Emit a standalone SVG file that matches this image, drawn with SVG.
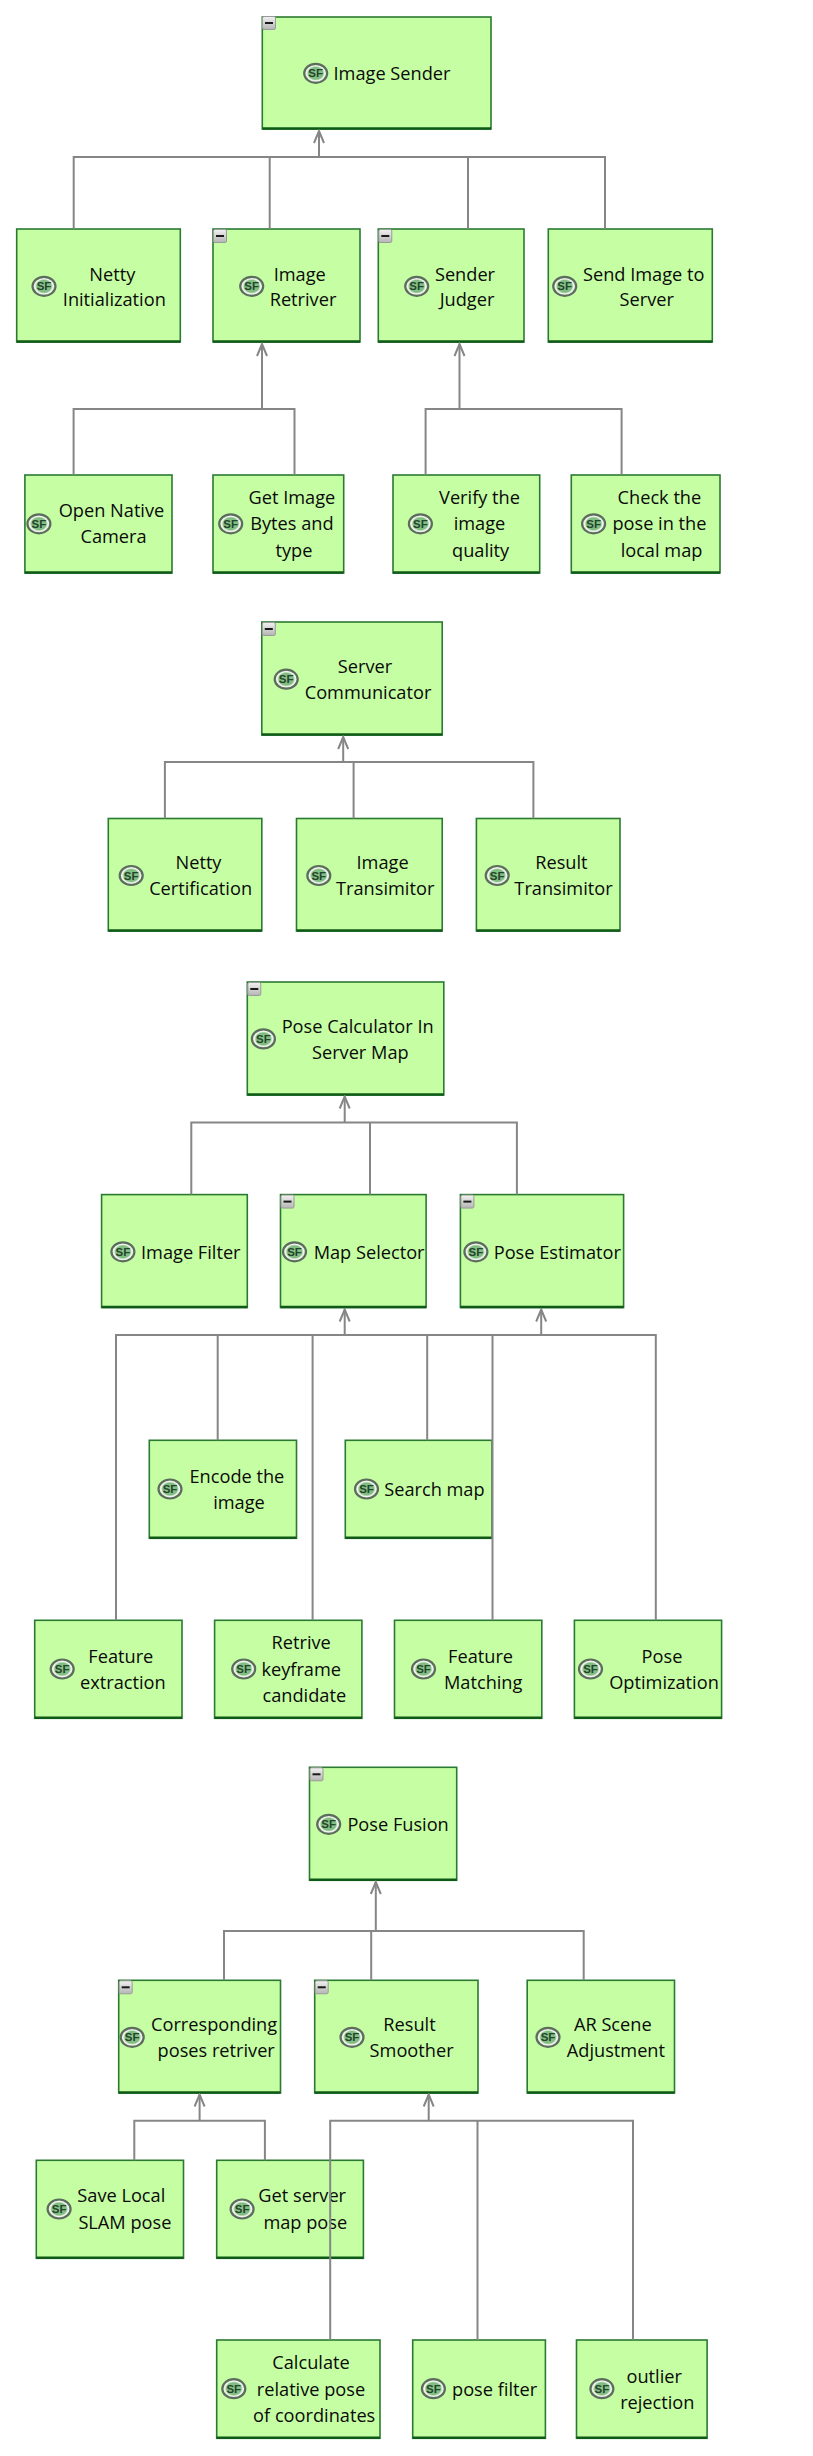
<svg xmlns="http://www.w3.org/2000/svg" width="813" height="2456" viewBox="0 0 813 2456">
<style>
.b{fill:#c6ffa3;stroke:#2b7a32;stroke-width:1.6}
.e{stroke:#0f5a16;stroke-width:2.6;fill:none}
.c{fill:none;stroke:#868686;stroke-width:2}
.t{font-family:"Open Sans","Noto Sans","Liberation Sans",sans-serif;font-size:18.2px;fill:#0a0a0a;text-anchor:middle}
.s{font-family:"Liberation Sans",sans-serif;font-size:11.5px;font-weight:700;fill:#24452b;text-anchor:middle}
.a{fill:none;stroke:#868686;stroke-width:2}
.bd{fill:url(#bg);stroke:#5c6c5d;stroke-width:2.2}
.m{fill:url(#mg);stroke:#9a9a9a;stroke-width:1}
.n{fill:#1a1a1a}
</style>
<defs>
<radialGradient id="bg"><stop offset="0" stop-color="#8ec88e"/><stop offset="0.62" stop-color="#7fbb80"/><stop offset="0.78" stop-color="#f2f7ee"/><stop offset="1" stop-color="#cfdccb"/></radialGradient>
<linearGradient id="mg" x1="0" y1="0" x2="0" y2="1"><stop offset="0" stop-color="#f2f2f2"/><stop offset="1" stop-color="#b4b4b4"/></linearGradient>
<marker id="arr" markerUnits="userSpaceOnUse" markerWidth="16" markerHeight="14" refX="14" refY="7" orient="auto" viewBox="0 0 16 14"><path class="a" d="M2 2 L14 7 L2 12"/></marker>
<g id="badge"><ellipse class="bd" cx="0" cy="0" rx="11.5" ry="9.5"/></g>
<g id="minus"><rect class="m" x="0.5" y="0.5" width="13" height="13" rx="1.5"/><rect class="n" x="3" y="6" width="8" height="2"/></g>
</defs>

<g id="node-image-sender"><rect class="b" x="262.3" y="17" width="228.7" height="112"/><path class="e" d="M262.3 128.5H491"/><use href="#minus" x="262" y="16"/><use href="#badge" x="315.7" y="73.3"/><text class="s" x="315.7" y="77.4">SF</text><text class="t" x="392" y="80">Image Sender</text></g>
<g id="node-netty-initialization"><rect class="b" x="16.7" y="229" width="163.6" height="113"/><path class="e" d="M16.7 341.5H180.3"/><use href="#badge" x="44" y="286.3"/><text class="s" x="44" y="290.4">SF</text><text class="t" x="112.3" y="280.7">Netty</text><text class="t" x="114.3" y="306">Initialization</text></g>
<g id="node-image-retriver"><rect class="b" x="213" y="229" width="147" height="113"/><path class="e" d="M213 341.5H360"/><use href="#minus" x="213" y="229"/><use href="#badge" x="251.7" y="286.3"/><text class="s" x="251.7" y="290.4">SF</text><text class="t" x="299.7" y="280.7">Image</text><text class="t" x="303" y="306">Retriver</text></g>
<g id="node-sender-judger"><rect class="b" x="378.3" y="229" width="145.7" height="113"/><path class="e" d="M378.3 341.5H524"/><use href="#minus" x="378.3" y="229"/><use href="#badge" x="416.7" y="286.3"/><text class="s" x="416.7" y="290.4">SF</text><text class="t" x="465" y="280.7">Sender</text><text class="t" x="467" y="306">Judger</text></g>
<g id="node-send-image"><rect class="b" x="548.3" y="229" width="164" height="113"/><path class="e" d="M548.3 341.5H712.3"/><use href="#badge" x="564.7" y="286.3"/><text class="s" x="564.7" y="290.4">SF</text><text class="t" x="643.7" y="280.7">Send Image to</text><text class="t" x="646.7" y="306">Server</text></g>

<g id="node-open-camera"><rect class="b" x="24.9" y="475" width="147.1" height="98"/><path class="e" d="M24.9 572.5H172"/><use href="#badge" x="38.9" y="523.8"/><text class="s" x="38.9" y="527.9">SF</text><text class="t" x="111.5" y="517">Open Native</text><text class="t" x="113.5" y="543">Camera</text></g>
<g id="node-get-image"><rect class="b" x="213" y="475" width="130.7" height="98"/><path class="e" d="M213 572.5H343.7"/><use href="#badge" x="230.7" y="523.8"/><text class="s" x="230.7" y="527.9">SF</text><text class="t" x="291.9" y="504">Get Image</text><text class="t" x="291.9" y="530.3">Bytes and</text><text class="t" x="293.9" y="556.7">type</text></g>
<g id="node-verify"><rect class="b" x="393" y="475" width="146.7" height="98"/><path class="e" d="M393 572.5H539.7"/><use href="#badge" x="420.4" y="523.8"/><text class="s" x="420.4" y="527.9">SF</text><text class="t" x="479.5" y="504">Verify the</text><text class="t" x="479.5" y="530.3">image</text><text class="t" x="480.6" y="556.7">quality</text></g>
<g id="node-check-pose"><rect class="b" x="571.3" y="475" width="148.7" height="98"/><path class="e" d="M571.3 572.5H720"/><use href="#badge" x="593.6" y="523.8"/><text class="s" x="593.6" y="527.9">SF</text><text class="t" x="659.4" y="504">Check the</text><text class="t" x="659.4" y="530.3">pose in the</text><text class="t" x="661.5" y="556.7">local map</text></g>

<g id="node-server-communicator"><rect class="b" x="261.8" y="622" width="180.4" height="113"/><path class="e" d="M261.8 734.5H442.2"/><use href="#minus" x="261.8" y="622"/><use href="#badge" x="286.2" y="679.2"/><text class="s" x="286.2" y="683.3">SF</text><text class="t" x="365" y="672.7">Server</text><text class="t" x="368" y="699">Communicator</text></g>
<g id="node-netty-certification"><rect class="b" x="108.3" y="818.5" width="153.5" height="112.5"/><path class="e" d="M108.3 930.5H261.8"/><use href="#badge" x="131.2" y="875.5"/><text class="s" x="131.2" y="879.6">SF</text><text class="t" x="198.5" y="869">Netty</text><text class="t" x="200.6" y="895">Certification</text></g>
<g id="node-image-transimitor"><rect class="b" x="296.5" y="818.5" width="145.7" height="112.5"/><path class="e" d="M296.5 930.5H442.2"/><use href="#badge" x="318.8" y="875.5"/><text class="s" x="318.8" y="879.6">SF</text><text class="t" x="382.6" y="869">Image</text><text class="t" x="385.2" y="895">Transimitor</text></g>
<g id="node-result-transimitor"><rect class="b" x="476.4" y="818.5" width="143.6" height="112.5"/><path class="e" d="M476.4 930.5H620"/><use href="#badge" x="497.2" y="875.5"/><text class="s" x="497.2" y="879.6">SF</text><text class="t" x="561.4" y="869">Result</text><text class="t" x="563.5" y="895">Transimitor</text></g>

<g id="node-pose-calculator"><rect class="b" x="247.3" y="982" width="196.5" height="113"/><path class="e" d="M247.3 1094.5H443.8"/><use href="#minus" x="247.3" y="982"/><use href="#badge" x="263.4" y="1038.9"/><text class="s" x="263.4" y="1043">SF</text><text class="t" x="357.7" y="1033">Pose Calculator In</text><text class="t" x="360.3" y="1059">Server Map</text></g>
<g id="node-image-filter"><rect class="b" x="101.6" y="1194.6" width="145.7" height="112.9"/><path class="e" d="M101.6 1307H247.3"/><use href="#badge" x="122.9" y="1251.8"/><text class="s" x="122.9" y="1255.9">SF</text><text class="t" x="190.8" y="1258.6">Image Filter</text></g>
<g id="node-map-selector"><rect class="b" x="280.5" y="1194.6" width="145.6" height="112.9"/><path class="e" d="M280.5 1307H426.1"/><use href="#minus" x="280.5" y="1194.6"/><use href="#badge" x="294.5" y="1251.8"/><text class="s" x="294.5" y="1255.9">SF</text><text class="t" x="369.1" y="1258.6">Map Selector</text></g>
<g id="node-pose-estimator"><rect class="b" x="460.4" y="1194.6" width="163.2" height="112.9"/><path class="e" d="M460.4 1307H623.6"/><use href="#minus" x="460.4" y="1194.6"/><use href="#badge" x="475.9" y="1251.8"/><text class="s" x="475.9" y="1255.9">SF</text><text class="t" x="557.3" y="1258.6">Pose Estimator</text></g>

<g id="node-encode-image"><rect class="b" x="149.3" y="1440.3" width="147.2" height="98"/><path class="e" d="M149.3 1537.8H296.5"/><use href="#badge" x="170" y="1489"/><text class="s" x="170" y="1493.1">SF</text><text class="t" x="236.9" y="1483">Encode the</text><text class="t" x="239" y="1509">image</text></g>
<g id="node-search-map"><rect class="b" x="345.3" y="1440.3" width="146.7" height="98"/><path class="e" d="M345.3 1537.8H492"/><use href="#badge" x="366.5" y="1489"/><text class="s" x="366.5" y="1493.1">SF</text><text class="t" x="434.4" y="1495.7">Search map</text></g>
<g id="node-feature-extraction"><rect class="b" x="34.7" y="1620.3" width="147.3" height="98"/><path class="e" d="M34.7 1717.8H182"/><use href="#badge" x="62.2" y="1669"/><text class="s" x="62.2" y="1673.1">SF</text><text class="t" x="120.8" y="1662.7">Feature</text><text class="t" x="122.9" y="1688.7">extraction</text></g>
<g id="node-retrive-keyframe"><rect class="b" x="214.6" y="1620.3" width="147.3" height="98"/><path class="e" d="M214.6 1717.8H361.9"/><use href="#badge" x="243.7" y="1669"/><text class="s" x="243.7" y="1673.1">SF</text><text class="t" x="301.2" y="1649.3">Retrive</text><text class="t" x="301.2" y="1675.7">keyframe</text><text class="t" x="304.3" y="1701.7">candidate</text></g>
<g id="node-feature-matching"><rect class="b" x="394.5" y="1620.3" width="147.3" height="98"/><path class="e" d="M394.5 1717.8H541.8"/><use href="#badge" x="423.5" y="1669"/><text class="s" x="423.5" y="1673.1">SF</text><text class="t" x="480.6" y="1662.7">Feature</text><text class="t" x="483.2" y="1688.7">Matching</text></g>
<g id="node-pose-optimization"><rect class="b" x="574.4" y="1620.3" width="147.2" height="98"/><path class="e" d="M574.4 1717.8H721.6"/><use href="#badge" x="590.5" y="1669"/><text class="s" x="590.5" y="1673.1">SF</text><text class="t" x="662" y="1662.7">Pose</text><text class="t" x="664" y="1688.7">Optimization</text></g>

<g id="node-pose-fusion"><rect class="b" x="309.5" y="1767.3" width="147.2" height="113"/><path class="e" d="M309.5 1879.8H456.7"/><use href="#minus" x="309.5" y="1767.3"/><use href="#badge" x="328.7" y="1824.3"/><text class="s" x="328.7" y="1828.4">SF</text><text class="t" x="398.1" y="1831">Pose Fusion</text></g>
<g id="node-corresponding"><rect class="b" x="118.7" y="1980.3" width="161.8" height="112.7"/><path class="e" d="M118.7 2092.5H280.5"/><use href="#minus" x="118.7" y="1980.3"/><use href="#badge" x="132.2" y="2037.3"/><text class="s" x="132.2" y="2041.4">SF</text><text class="t" x="214.1" y="2031">Corresponding</text><text class="t" x="216.2" y="2057">poses retriver</text></g>
<g id="node-result-smoother"><rect class="b" x="314.7" y="1980.3" width="163.3" height="112.7"/><path class="e" d="M314.7 2092.5H478"/><use href="#minus" x="314.7" y="1980.3"/><use href="#badge" x="352" y="2037.3"/><text class="s" x="352" y="2041.4">SF</text><text class="t" x="409.5" y="2031">Result</text><text class="t" x="411.6" y="2057">Smoother</text></g>
<g id="node-ar-scene"><rect class="b" x="527.2" y="1980.3" width="147.3" height="112.7"/><path class="e" d="M527.2 2092.5H674.5"/><use href="#badge" x="548" y="2037.3"/><text class="s" x="548" y="2041.4">SF</text><text class="t" x="612.8" y="2031">AR Scene</text><text class="t" x="615.9" y="2057">Adjustment</text></g>

<g id="node-save-local"><rect class="b" x="36.3" y="2160.3" width="147.2" height="98"/><path class="e" d="M36.3 2257.8H183.5"/><use href="#badge" x="59.1" y="2209"/><text class="s" x="59.1" y="2213.1">SF</text><text class="t" x="121.3" y="2202.3">Save Local</text><text class="t" x="124.9" y="2228.7">SLAM pose</text></g>
<g id="node-get-server"><rect class="b" x="216.7" y="2160.3" width="146.7" height="98"/><path class="e" d="M216.7 2257.8H363.4"/><use href="#badge" x="242.1" y="2209"/><text class="s" x="242.1" y="2213.1">SF</text><text class="t" x="302.2" y="2202.3">Get server</text><text class="t" x="305.3" y="2228.7">map pose</text></g>
<g id="node-calculate"><rect class="b" x="216.7" y="2340" width="163.3" height="98.3"/><path class="e" d="M216.7 2437.8H380"/><use href="#badge" x="233.8" y="2388.7"/><text class="s" x="233.8" y="2392.8">SF</text><text class="t" x="311" y="2369.3">Calculate</text><text class="t" x="311" y="2395.7">relative pose</text><text class="t" x="314.2" y="2421.7">of coordinates</text></g>
<g id="node-pose-filter"><rect class="b" x="412.7" y="2340" width="132.7" height="98.3"/><path class="e" d="M412.7 2437.8H545.4"/><use href="#badge" x="433.4" y="2388.7"/><text class="s" x="433.4" y="2392.8">SF</text><text class="t" x="494.6" y="2395.7">pose filter</text></g>
<g id="node-outlier"><rect class="b" x="576.5" y="2340" width="130.6" height="98.3"/><path class="e" d="M576.5 2437.8H707.1"/><use href="#badge" x="601.9" y="2388.7"/><text class="s" x="601.9" y="2392.8">SF</text><text class="t" x="654.2" y="2382.7">outlier</text><text class="t" x="657.3" y="2408.7">rejection</text></g>

<g id="connectors">
<path class="c" d="M73.7 229V157H605V229M269.7 229V157M468 229V157"/>
<path class="c" marker-end="url(#arr)" d="M319 157V131"/>
<path class="c" d="M73.6 475V409H294.5V475"/>
<path class="c" marker-end="url(#arr)" d="M262 409V344"/>
<path class="c" d="M425.6 475V409H621.6V475"/>
<path class="c" marker-end="url(#arr)" d="M459.5 409V344"/>
<path class="c" d="M164.9 818.5V762H533.4V818.5M353.6 818.5V762"/>
<path class="c" marker-end="url(#arr)" d="M343.2 762V737"/>
<path class="c" d="M191.3 1194.6V1122.5H516.9V1194.6M370 1194.6V1122.5"/>
<path class="c" marker-end="url(#arr)" d="M344.7 1122.5V1096.5"/>
<path class="c" d="M116 1620.3V1335H655.8V1620.3M217.7 1440.3V1335M312.6 1620.3V1335M427.2 1440.3V1335M492.5 1620.3V1335"/>
<path class="c" marker-end="url(#arr)" d="M344.7 1335V1309.5"/>
<path class="c" marker-end="url(#arr)" d="M541.2 1335V1309.5"/>
<path class="c" d="M224 1980.3V1931H583.7V1980.3M371.2 1980.3V1931"/>
<path class="c" marker-end="url(#arr)" d="M375.8 1931V1882"/>
<path class="c" d="M134.3 2160.3V2120.7H264.9V2160.3"/>
<path class="c" marker-end="url(#arr)" d="M199.6 2120.7V2094.5"/>
<path class="c" d="M330.2 2340V2120.7H633V2340M477.5 2340V2120.7"/>
<path class="c" marker-end="url(#arr)" d="M428.7 2120.7V2094.5"/>
</g>
</svg>
